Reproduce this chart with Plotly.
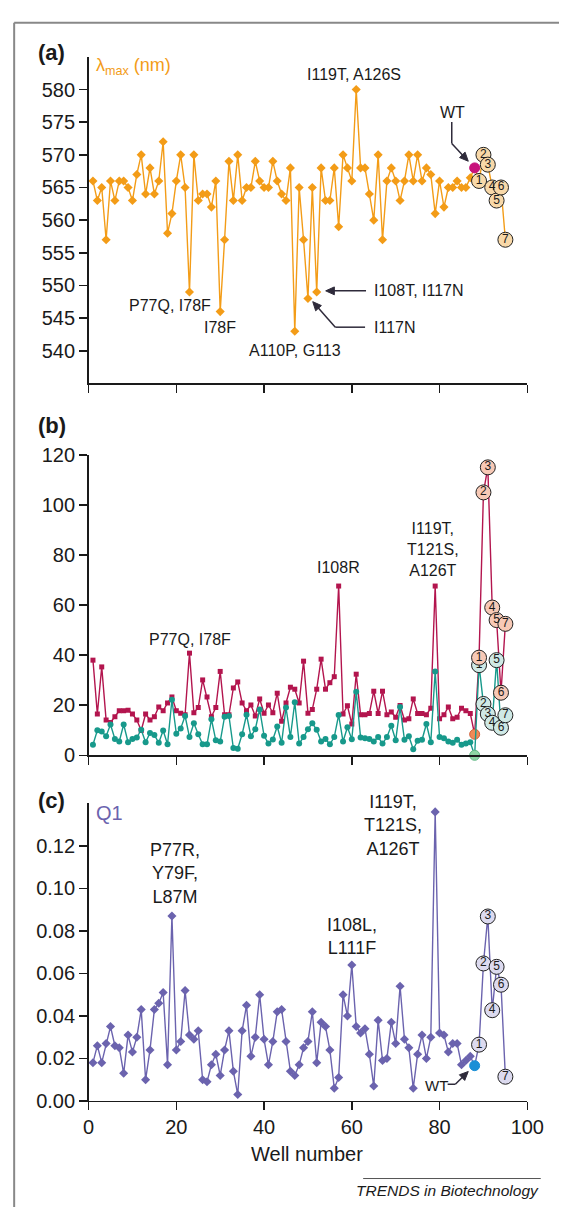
import math
import plotly.graph_objects as go

# ---------------- data ----------------
WELLS = list(range(1, 88))
WT_WELL = 88
MUT_WELLS = [89, 90, 91, 92, 93, 94, 95]
MUT_LABELS = ["1", "2", "3", "4", "5", "6", "7"]

LAMBDA = [566, 563, 565, 557, 566, 563, 566, 566, 565, 563,
          567, 570, 564, 568, 564, 566, 572, 558, 561, 566,
          570, 565, 549, 570, 563, 564, 564, 562, 566, 546,
          557, 569, 563, 570, 563, 565, 565, 569, 566, 565,
          565, 569, 566, 564, 563, 568, 543, 565, 557, 548,
          565, 549, 568, 563, 563, 568, 559, 570, 568, 566,
          580, 568, 568, 564, 560, 570, 557, 566, 568, 566,
          563, 566, 570, 566, 570, 566, 568, 567, 561, 566,
          562, 565, 565, 566, 565, 565, 566.5]
LAMBDA_WT = 568
LAMBDA_MUT = [566, 570, 568.5, 565, 563, 565, 557]

RED = [38, 16.5, 35.3, 14.1, 13.1, 15.4, 17.8, 17.8, 18, 16.5,
       14.1, 9.9, 16.5, 14.1, 15.4, 19.3, 17.8, 20.9, 23.3, 17.8,
       16.8, 16.2, 40.8, 17, 19.1, 30.1, 23.3, 15.4, 19.1, 33.5,
       16.2, 16.2, 26.9, 29.3, 20.9, 17.8, 20.1, 15.7, 22.5, 16.8,
       20.1, 17, 24.8, 13.6, 20.9, 27.2, 26.4, 20.9, 37.6, 16.8,
       18.3, 26.4, 38.4, 26.4, 29, 31.4, 67.6, 16.5, 19.8, 12.5,
       32.4, 16.2, 16.2, 16.7, 25.6, 16.7, 25.6, 16.2, 17.3, 15.2,
       19.9, 14.1, 14.6, 22.5, 16.7, 16.7, 16.2, 18.8, 67.6, 14.6,
       16.2, 19.3, 14.6, 15.2, 18.8, 17.8, 16.7]
RED_WT = 8.4
RED_MUT = [39, 105, 115, 59, 54, 25, 52.5]

TEAL = [4.2, 10, 9.5, 7.6, 12.3, 6.5, 5.5, 12.3, 5.2, 6.5,
        7.1, 10.2, 5.2, 8.9, 8.1, 5, 9.9, 4.4, 22.2, 8.6,
        10.7, 15.7, 7.3, 12.8, 8.4, 4.4, 4.4, 14.4, 6, 5.5,
        15.4, 15.7, 2.9, 2.6, 8.4, 16.2, 7.6, 10.4, 18.3, 7.8,
        4.7, 6.3, 11.5, 5, 19.1, 7.3, 21.2, 4.7, 7.3, 10.4,
        12.8, 10.2, 5.5, 6.5, 4.4, 7.3, 16.1, 5.5, 11.2, 6.4,
        25.4, 7.1, 6.8, 6.5, 5.5, 7.3, 4.7, 7.3, 11.8, 6,
        19.3, 6.2, 7.6, 2.4, 5.8, 6.2, 12.5, 5.2, 33.5, 7.3,
        6.8, 5.5, 5, 6.2, 4.2, 4.7, 5.2]
TEAL_WT = 0
TEAL_MUT = [36, 20.5, 16.5, 13, 38, 11, 16]

Q1 = [0.018, 0.026, 0.018, 0.027, 0.035, 0.026, 0.025, 0.013, 0.031, 0.023,
      0.030, 0.043, 0.010, 0.024, 0.043, 0.046, 0.051, 0.017, 0.087, 0.024,
      0.028, 0.052, 0.031, 0.029, 0.033, 0.010, 0.009, 0.017, 0.022, 0.012,
      0.024, 0.033, 0.014, 0.003, 0.033, 0.045, 0.021, 0.030, 0.050, 0.029,
      0.017, 0.028, 0.042, 0.043, 0.028, 0.014, 0.012, 0.017, 0.025, 0.028,
      0.042, 0.018, 0.037, 0.035, 0.024, 0.006, 0.011, 0.050, 0.040, 0.064,
      0.035, 0.032, 0.034, 0.022, 0.007, 0.038, 0.019, 0.020, 0.037, 0.027,
      0.054, 0.029, 0.025, 0.006, 0.022, 0.031, 0.020, 0.030, 0.136, 0.032,
      0.031, 0.023, 0.027, 0.027, 0.017, 0.019, 0.021]
Q1_WT = 0.0166
Q1_MUT = [0.0265, 0.0647, 0.0868, 0.0427, 0.0631, 0.0547, 0.0114]

X_TICKS = [0, 20, 40, 60, 80, 100]
YA_TICKS = [540, 545, 550, 555, 560, 565, 570, 575, 580]
YB_TICKS = [0, 20, 40, 60, 80, 100, 120]
YC_TICKS = [0.00, 0.02, 0.04, 0.06, 0.08, 0.10, 0.12]

# ---------------- style ----------------
W, H = 576, 1218
FONT = "Liberation Sans, Arial, Helvetica, sans-serif"
ORANGE = "#f39c17"
CRIMSON = "#b3154e"
TEALC = "#17998b"
PURPLE = "#6b63ae"
INK = "#1a1a1a"
ARROW = "#2e2a3a"


def px(x):
    return x / W


def py(y):
    return 1 - y / H


fig = go.Figure()

all_x = WELLS + [WT_WELL] + MUT_WELLS


def add_series(xa, ya, vals, wt, mut, color, symbol, msize, wt_color, wt_line):
    fig.add_trace(go.Scatter(x=all_x, y=vals + [wt] + mut, mode="lines",
                             line=dict(color=color, width=1.4), xaxis=xa, yaxis=ya,
                             hoverinfo="skip"))
    fig.add_trace(go.Scatter(x=WELLS, y=vals, mode="markers",
                             marker=dict(color=color, symbol=symbol, size=msize, line=dict(width=0)),
                             xaxis=xa, yaxis=ya, cliponaxis=False))
    fig.add_trace(go.Scatter(x=[WT_WELL], y=[wt], mode="markers",
                             marker=dict(color=wt_color, size=10, line=dict(color=wt_line, width=1)),
                             xaxis=xa, yaxis=ya, cliponaxis=False))


def add_circles(xa, ya, mut, fill):
    fig.add_trace(go.Scatter(x=MUT_WELLS, y=mut, mode="markers+text", text=MUT_LABELS,
                             textposition="middle center",
                             textfont=dict(family=FONT, size=12, color=INK),
                             marker=dict(color=fill, size=15, symbol="circle",
                                         line=dict(color="#222222", width=1)),
                             xaxis=xa, yaxis=ya, cliponaxis=False))


# panel (a)
add_series("x", "y", LAMBDA, LAMBDA_WT, LAMBDA_MUT, ORANGE, "diamond", 7, "#c8127c", "#c8127c")
add_circles("x", "y", LAMBDA_MUT, "#f8d8a8")

# panel (b)
add_series("x2", "y2", RED, RED_WT, RED_MUT, CRIMSON, "square", 5, "#f08a55", "#d0603a")
add_series("x2", "y2", TEAL, TEAL_WT, TEAL_MUT, TEALC, "circle", 6, "#8fd6a4", "#5fb884")
add_circles("x2", "y2", TEAL_MUT, "#cfe9e5")
add_circles("x2", "y2", RED_MUT, "#f7c9b6")

# panel (c)
add_series("x3", "y3", Q1, Q1_WT, Q1_MUT, PURPLE, "diamond", 7, "#1a8fd6", "#1a8fd6")
add_circles("x3", "y3", Q1_MUT, "#dcdaef")

axis_common = dict(showline=True, linecolor=INK, linewidth=1.5, ticks="outside",
                   ticklen=8, tickwidth=1.5, tickcolor=INK, showgrid=False, zeroline=False,
                   tickfont=dict(family=FONT, size=20, color=INK), fixedrange=True)

xdom = [px(86), px(543)]
fig.update_layout(
    width=W, height=H, margin=dict(l=0, r=0, t=0, b=0),
    paper_bgcolor="white", plot_bgcolor="white", showlegend=False,
    font=dict(family=FONT, color=INK),
    xaxis=dict(axis_common, domain=xdom, range=[0, 100], tickvals=X_TICKS,
               showticklabels=False, anchor="y"),
    yaxis=dict(axis_common, domain=[py(379.3), py(46.7)], range=[535, 585],
               tickvals=YA_TICKS, anchor="x"),
    xaxis2=dict(axis_common, domain=xdom, range=[0, 100], tickvals=X_TICKS,
                showticklabels=False, anchor="y2"),
    yaxis2=dict(axis_common, domain=[py(758), py(452)], range=[0, 120],
                tickvals=YB_TICKS, anchor="x2"),
    xaxis3=dict(axis_common, domain=xdom, range=[0, 100], tickvals=X_TICKS,
                anchor="y3"),
    yaxis3=dict(axis_common, domain=[py(1110), py(807)], range=[0, 0.14],
                tickvals=YC_TICKS, tickformat=".2f", anchor="x3"),
)

ann = []
shapes = []


def text(x, y, t, size=16, color=INK, xanchor="center", bold=False, italic=False):
    s = t
    if bold:
        s = "<b>" + s + "</b>"
    if italic:
        s = "<i>" + s + "</i>"
    ann.append(dict(x=px(x), y=py(y), xref="paper", yref="paper", text=s, showarrow=False,
                    xanchor=xanchor, yanchor="middle",
                    font=dict(family=FONT, size=size, color=color)))


def seg(x0, y0, x1, y1, color=ARROW, width=1.5):
    shapes.append(dict(type="line", xref="paper", yref="paper",
                       x0=px(x0), y0=py(y0), x1=px(x1), y1=py(y1),
                       line=dict(color=color, width=width)))


def arrow(tx, ty, hx, hy, L=9.0, hw=4.0):
    d = math.hypot(hx - tx, hy - ty)
    ux, uy = (hx - tx) / d, (hy - ty) / d
    bx, by = hx - ux * L, hy - uy * L
    seg(tx, ty, bx + ux * 2, by + uy * 2)
    nx, ny = -uy, ux
    p1 = (bx + nx * hw, by + ny * hw)
    p2 = (bx - nx * hw, by - ny * hw)
    path = "M {:.5f} {:.5f} L {:.5f} {:.5f} L {:.5f} {:.5f} Z".format(
        px(hx), py(hy), px(p1[0]), py(p1[1]), px(p2[0]), py(p2[1]))
    shapes.append(dict(type="path", xref="paper", yref="paper", path=path,
                       fillcolor=ARROW, line=dict(color=ARROW, width=1)))


# panel (a) texts
text(31, 42, "(a)", size=22, xanchor="left", bold=True)
text(92, 57, "λ<sub>max</sub> (nm)", size=18, color=ORANGE, xanchor="left")
text(362, 65, "I119T, A126S")
text(465, 103, "WT")
text(171, 300, "P77Q, I78F")
text(223, 322, "I78F")
text(301, 346, "A110P, G113")
text(381, 285, "I108T, I117N", xanchor="left")
text(381, 322, "I117N", xanchor="left")
seg(464.3, 113, 464.3, 135)
arrow(464.3, 135, 481.5, 153)
arrow(375, 285, 333, 285)
seg(343, 322, 374, 322)
arrow(343, 322, 319.5, 296)

# panel (b) texts
text(31, 422, "(b)", size=22, xanchor="left", bold=True)
text(192, 640, "P77Q, I78F")
text(346, 567, "I108R")
text(445, 548, "I119T,<br>T121S,<br>A126T", size=16)

# panel (c) texts
text(31, 804, "(c)", size=22, xanchor="left", bold=True)
text(92, 817, "Q1", size=20, color=PURPLE, xanchor="left")
text(176, 878, "P77R,<br>Y79F,<br>L87M", size=18)
text(360, 943, "I108L,<br>L111F", size=18)
text(403, 829, "I119T,<br>T121S,<br>A126T", size=18)
text(448, 1094, "WT", size=15)
seg(460, 1093, 468, 1093)
arrow(468, 1093, 481.5, 1080)
text(313, 1164, "Well number", size=20)
text(557, 1201, "TRENDS in Biotechnology", size=15.5, xanchor="right", italic=True)

# frame and footer rule
seg(8.5, 12, 576, 12, color="#888888", width=2)
seg(8.5, 12, 8.5, 1218, color="#888888", width=2)
seg(372, 1189, 557, 1189, color="#555555", width=1)

fig.update_layout(annotations=ann, shapes=shapes)

# place the figure at the page origin (remove the default body margin)
fig.write_html("out.html",
               config={"displayModeBar": False, "staticPlot": True},
               post_script="document.body.style.margin='0';document.body.style.overflow='hidden';")
